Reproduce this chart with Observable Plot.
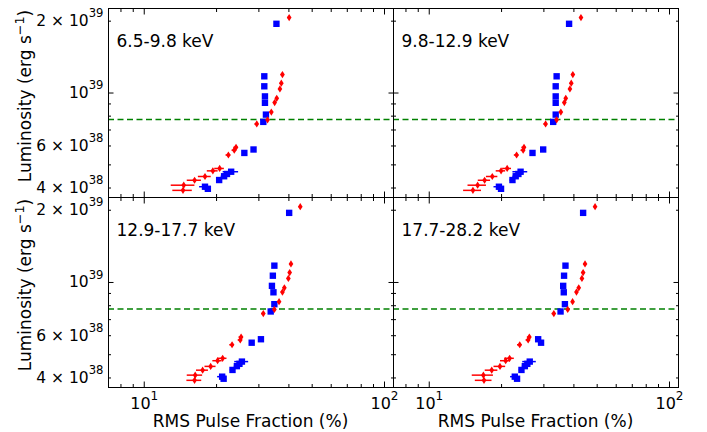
<!DOCTYPE html>
<html><head><meta charset="utf-8">
<script src="https://cdn.jsdelivr.net/npm/d3@7"></script>
<script src="https://cdn.jsdelivr.net/npm/@observablehq/plot@0.6"></script>
<style>
html,body{margin:0;padding:0;background:#fff;}
#wrap{position:relative;width:707px;height:432px;overflow:hidden;font-family:"DejaVu Sans",sans-serif;color:#000;background:#fff;}
#wrap svg{position:absolute;left:0;top:0;}
.lab{position:absolute;font-size:17px;line-height:17px;white-space:nowrap;color:#000;}
.lab .sup{font-size:0.75em;position:relative;top:-0.55em;line-height:0;}
</style></head><body><div id="wrap"></div>
<script>
// ---------- data ----------
const panelLabels = ["6.5-9.8 keV", "9.8-12.9 keV", "12.9-17.7 keV", "17.7-28.2 keV"];
const xAxisTitle = "RMS Pulse Fraction (%)";
const yAxisTitleBase = "Luminosity (erg s";
const yAxisTitleSup = "\u22121";
const thresholdL = 7.75e38;

// luminosities (shared by all bands)
const lumRed = [2.07e39, 1.195e39, 1.10e39, 1.04e39, 9.5e38, 9.12e38, 8.32e38, 7.72e38, 7.42e38,
                5.92e38, 5.76e38, 5.50e38, 4.83e38, 4.72e38, 4.47e38, 4.31e38, 4.11e38, 3.91e38];
const lumBlue = [1.95e39, 1.175e39, 1.067e39, 9.68e38, 9.1e38, 8.12e38, 7.57e38,
                 5.80e38, 5.61e38, 4.68e38, 4.58e38, 4.48e38, 4.32e38, 4.05e38, 3.97e38];

// RMS pulse fraction (%) per band
const pfRed1 = [40.1, 37.6, 37.2, 36.7, 35.6, 34.9, 33.8, 32.6, 29.4, 24.1, 23.7, 22.4, 20.6, 19.3, 17.9, 16.2, 14.6, 14.5];
const pfRed2 = [42.8, 39.6, 39.0, 38.5, 37.0, 36.5, 35.3, 33.9, 30.5, 24.8, 24.6, 23.1, 21.1, 19.9, 18.3, 17.0, 15.9, 15.2];
const pfRed3 = [44.6, 40.8, 40.3, 39.8, 38.3, 37.6, 36.4, 34.8, 31.3, 25.3, 25.1, 23.2, 21.2, 20.2, 18.9, 17.5, 16.3, 16.2];
const pfRed4 = [49.0, 44.5, 43.7, 43.2, 41.9, 41.0, 39.5, 37.7, 33.0, 26.1, 25.8, 23.8, 21.6, 20.8, 19.7, 18.2, 16.8, 16.9];

const pfBlue1 = [35.5, 31.6, 31.6, 31.8, 31.8, 32.1, 31.3, 28.5, 26.1, 23.0, 22.1, 21.5, 20.5, 17.9, 18.4];
const pfBlue2 = [38.2, 33.9, 33.6, 33.6, 33.6, 33.6, 32.8, 29.8, 26.9, 24.0, 23.5, 22.9, 22.2, 19.5, 19.9];
const pfBlue3 = [40.1, 34.8, 34.3, 34.0, 34.5, 34.8, 33.6, 30.6, 28.0, 25.5, 24.9, 24.3, 23.3, 21.1, 21.4];
const pfBlue4 = [43.7, 36.9, 36.4, 36.1, 36.3, 36.7, 35.2, 28.4, 29.2, 26.2, 25.6, 25.0, 24.2, 22.7, 23.2];

// x errors (%)
const errRed1 = [0.5, 0.5, 0.4, 0.4, 0.4, 0.4, 0.4, 0.4, 0.5, 0.5, 0.5, 0.5, 0.95, 1.0, 1.1, 1.1, 1.65, 1.35];
const errRed2 = [0.5, 0.5, 0.4, 0.4, 0.4, 0.4, 0.4, 0.4, 0.5, 0.5, 0.5, 0.5, 0.9, 0.9, 1.0, 1.0, 1.4, 1.3];
const errRed3 = [0.5, 0.5, 0.4, 0.4, 0.4, 0.4, 0.4, 0.4, 0.5, 0.5, 0.5, 0.5, 0.9, 0.9, 1.0, 1.0, 1.2, 1.15];
const errRed4 = [0.5, 0.5, 0.4, 0.4, 0.4, 0.4, 0.4, 0.4, 0.5, 0.5, 0.5, 0.5, 1.0, 1.0, 1.1, 1.1, 1.7, 1.35];
const errBlue = [0.4, 0.4, 0.4, 0.4, 0.4, 0.4, 0.4, 0.4, 0.4, 1.7, 0.8, 0.6, 0.5, 0.9, 0.6];

// ticks (labels as base + exponent)
const xMajor = [10, 100];
const xMinor = [8, 9, 20, 30, 40, 50, 60, 70, 80, 90];
const xTickBase = ["10", "10"];
const xTickExp = ["1", "2"];
const yMajor = [1e39];
const yMinor = [4e38, 5e38, 6e38, 7e38, 8e38, 9e38, 2e39];
const yLabelTicks = [4e38, 6e38, 1e39, 2e39];
const yTickBase = ["4 \u00D7 10", "6 \u00D7 10", "10", "2 \u00D7 10"];
const yTickExp = ["38", "38", "39", "39"];

const xDomain = [7.1, 109];
const yDomain = [3.65e38, 2.26e39];

// ---------- layout ----------
const W = 707, H = 432;
const boxes = [
  {l: 108, r: 393, t: 8, b: 197},
  {l: 393, r: 678, t: 8, b: 197},
  {l: 108, r: 393, t: 197, b: 387},
  {l: 393, r: 678, t: 197, b: 387}
];
const pfRed = [pfRed1, pfRed2, pfRed3, pfRed4];
const pfBlue = [pfBlue1, pfBlue2, pfBlue3, pfBlue4];
const errRed = [errRed1, errRed2, errRed3, errRed4];
const SEP = "^";

const thinDiamond = {
  draw(ctx, size) {
    const s = Math.sqrt(size), h = s * 0.58, w = s * 0.38;
    ctx.moveTo(0, -h); ctx.lineTo(w, 0); ctx.lineTo(0, h); ctx.lineTo(-w, 0); ctx.closePath();
  }
};

function tickAxes() {
  const o = {fill: "none", label: null, stroke: "#000"};
  return [
    Plot.axisX({...o, anchor: "bottom", ticks: xMajor, tickSize: -5.5}),
    Plot.axisX({...o, anchor: "bottom", ticks: xMinor, tickSize: -3}),
    Plot.axisX({...o, anchor: "top", ticks: xMajor, tickSize: -5.5}),
    Plot.axisX({...o, anchor: "top", ticks: xMinor, tickSize: -3}),
    Plot.axisY({...o, anchor: "left", ticks: yMajor, tickSize: -5.5}),
    Plot.axisY({...o, anchor: "left", ticks: yMinor, tickSize: -3}),
    Plot.axisY({...o, anchor: "right", ticks: yMajor, tickSize: -5.5}),
    Plot.axisY({...o, anchor: "right", ticks: yMinor, tickSize: -3})
  ];
}

// turn "base^exp" tick labels into text + superscript tspan
function superscripts(svg) {
  svg.querySelectorAll("text").forEach(t => {
    const s = t.textContent;
    if (!s.includes(SEP)) return;
    const [base, exp] = s.split(SEP);
    while (t.firstChild) t.removeChild(t.firstChild);
    t.appendChild(document.createTextNode(base));
    const sp = document.createElementNS("http://www.w3.org/2000/svg", "tspan");
    sp.setAttribute("font-size", "75%");
    sp.setAttribute("dy", "-0.75em");
    sp.textContent = exp;
    t.appendChild(sp);
  });
}

const wrap = document.getElementById("wrap");

boxes.forEach((box, i) => {
  const red = lumRed.map((L, j) => ({x: pfRed[i][j], L, e: errRed[i][j]}));
  const blue = lumBlue.map((L, j) => ({x: pfBlue[i][j], L, e: errBlue[j]}));
  const showX = i >= 2, showY = i % 2 === 0;
  const marks = [
    Plot.ruleY([thresholdL], {stroke: "#008000", strokeWidth: 1.5, strokeDasharray: "6,3.5"}),
    Plot.ruleY(blue, {y: "L", x1: d => d.x - d.e, x2: d => d.x + d.e, stroke: "#0000ff", strokeWidth: 1.5}),
    Plot.dot(blue, {x: "x", y: "L", symbol: "square", r: 3.6, fill: "#0000ff"}),
    Plot.ruleY(red, {y: "L", x1: d => d.x - d.e, x2: d => d.x + d.e, stroke: "#ff0000", strokeWidth: 1.5}),
    Plot.dot(red, {x: "x", y: "L", symbol: thinDiamond, r: 3.5, fill: "#ff0000"}),
    Plot.text([panelLabels[i]], {frameAnchor: "top-left", text: d => d, dx: 8, dy: 33,
      lineAnchor: "middle", textAnchor: "start", fontSize: 17, fill: "#000"}),
    Plot.frame({stroke: "#000", strokeWidth: 1}),
    ...tickAxes()
  ];
  if (showX) marks.push(Plot.axisX({anchor: "bottom", ticks: xMajor, tickSize: 0, tickPadding: 10,
    tickFormat: d => { const k = xMajor.indexOf(d); return xTickBase[k] + SEP + xTickExp[k]; },
    label: null, fontSize: 16, fill: "#000"}));
  if (showY) marks.push(Plot.axisY({anchor: "left", ticks: yLabelTicks, tickSize: 0, tickPadding: 5,
    tickFormat: d => { const k = yLabelTicks.indexOf(d); return yTickBase[k] + SEP + yTickExp[k]; },
    label: null, fontSize: 15.5, fill: "#000"}));
  const svg = Plot.plot({
    width: W, height: H,
    marginLeft: box.l, marginRight: W - box.r, marginTop: box.t, marginBottom: H - box.b,
    x: {type: "log", domain: xDomain, label: null},
    y: {type: "log", domain: yDomain, label: null},
    style: {background: "transparent", fontFamily: "DejaVu Sans", fontSize: "16px", color: "#000", overflow: "visible"},
    marks
  });
  superscripts(svg);
  wrap.appendChild(svg);
});

function addLabel(base, sup, cx, cy, rotate) {
  const d = document.createElement("div");
  d.className = "lab";
  d.appendChild(document.createTextNode(base));
  if (sup) {
    const s = document.createElement("span");
    s.className = "sup";
    s.textContent = sup;
    d.appendChild(s);
    d.appendChild(document.createTextNode(")"));
  }
  d.style.left = cx + "px";
  d.style.top = cy + "px";
  d.style.transform = "translate(-50%,-50%)" + (rotate ? " rotate(-90deg)" : "");
  wrap.appendChild(d);
}
addLabel(xAxisTitle, null, 250.5, 421, false);
addLabel(xAxisTitle, null, 535.5, 421, false);
addLabel(yAxisTitleBase, yAxisTitleSup, 25, 96, true);
addLabel(yAxisTitleBase, yAxisTitleSup, 25, 285, true);
</script></body></html>
